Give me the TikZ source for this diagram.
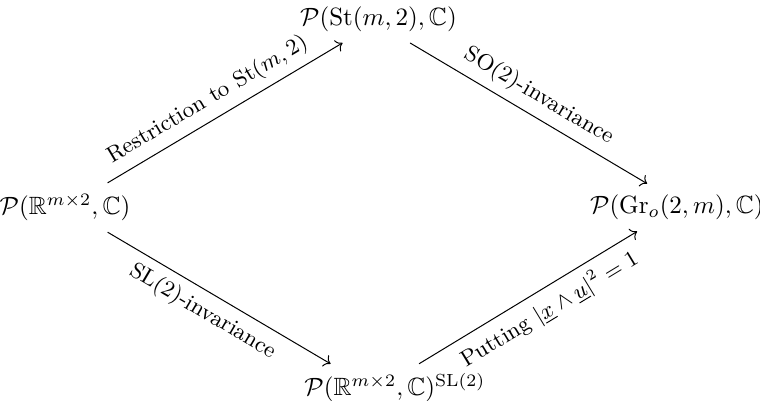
\documentclass[tikz,border=0pt]{standalone}
\usepackage{amsmath,amssymb}
\usepackage{tikz}
\usetikzlibrary{arrows.meta}

\begin{document}
\begin{tikzpicture}[x=1cm, y=1cm,
  esp/.style={inner sep=3.33pt},
  fl/.style={->, shorten <=2pt, shorten >=2pt},
  lab/.style={font=\small, sloped, inner sep=3.3pt}]

\useasboundingbox (0,0) rectangle (10.686,5.638);

% ── les quatre espaces ──
\node[esp] (gauche) at (0.914, 2.720) {$\mathcal{P}(\mathbb{R}^{m\times 2},\mathbb{C})$};
\node[esp] (haut)   at (5.321, 5.370) {$\mathcal{P}(\mathrm{St}(m,2),\mathbb{C})$};
\node[esp] (droite) at (9.517, 2.720) {$\mathcal{P}(\mathrm{Gr}_o(2,m),\mathbb{C})$};
\node[esp] (bas)    at (5.553, 0.190) {$\mathcal{P}(\mathbb{R}^{m\times 2},\mathbb{C})^{\mathrm{SL}(2)}$};

% ── les flèches ──
\draw[fl] (gauche.30) -- node[lab, above, pos=0.47] {Restriction to $\mathrm{St}(m,2)$} (haut.214);
\draw[fl] (haut.322) -- node[lab, above, pos=0.5] {$\mathrm{SO}(2)$-invariance} (droite.140);
\draw[fl, shorten >=0.5pt] (gauche.330) -- node[lab, below, pos=0.48] {$\mathrm{SL}(2)$-invariance} (bas.160);
\draw[fl, shorten <=0.5pt] (bas.45) -- node[lab, below, pos=0.54] {Putting $|\underline{x}\wedge\underline{u}|^2=1$} (droite.211);

\end{tikzpicture}
\end{document}
